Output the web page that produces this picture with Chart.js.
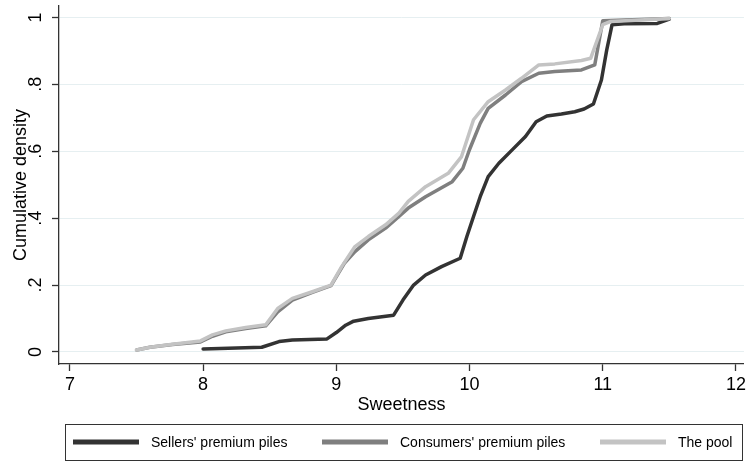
<!DOCTYPE html>
<html>
<head>
<meta charset="utf-8">
<script src="https://cdn.jsdelivr.net/npm/chart.js@4.4.0/dist/chart.umd.min.js"></script>
<style>
  html, body { margin: 0; padding: 0; background: #fff; }
  #wrap { width: 749px; height: 462px; }
</style>
</head>
<body>
<div id="wrap"><canvas id="grafico" width="749" height="462"></canvas></div>
<script>
// valores
const sellersX = [8.0, 8.44, 8.57, 8.67, 8.93, 9.0, 9.07, 9.13, 9.24, 9.43, 9.5, 9.58, 9.67, 9.79, 9.93, 9.98, 10.03, 10.08, 10.14, 10.22, 10.32, 10.42, 10.5, 10.58, 10.69, 10.79, 10.86, 10.93, 10.99, 11.03, 11.07, 11.16, 11.41, 11.5];
const sellersY = [0.009, 0.014, 0.031, 0.036, 0.039, 0.058, 0.08, 0.092, 0.1, 0.11, 0.155, 0.2, 0.23, 0.255, 0.28, 0.345, 0.405, 0.464, 0.524, 0.564, 0.604, 0.644, 0.688, 0.705, 0.711, 0.718, 0.726, 0.741, 0.813, 0.903, 0.978, 0.981, 0.982, 0.995];

const consumersX = [7.5, 7.6, 7.77, 7.98, 8.07, 8.17, 8.32, 8.47, 8.56, 8.67, 8.82, 8.96, 9.06, 9.14, 9.24, 9.37, 9.47, 9.54, 9.67, 9.87, 9.95, 10.0, 10.08, 10.14, 10.27, 10.39, 10.52, 10.64, 10.84, 10.94, 11.0, 11.5];
const consumersY = [0.006, 0.014, 0.022, 0.03, 0.047, 0.06, 0.07, 0.078, 0.12, 0.155, 0.178, 0.198, 0.265, 0.3, 0.335, 0.37, 0.405, 0.43, 0.464, 0.509, 0.549, 0.605, 0.683, 0.728, 0.768, 0.808, 0.833, 0.838, 0.843, 0.858, 0.99, 0.997];

const poolX = [7.5, 7.6, 7.77, 7.98, 8.07, 8.17, 8.32, 8.47, 8.56, 8.67, 8.82, 8.96, 9.04, 9.14, 9.24, 9.37, 9.47, 9.54, 9.67, 9.84, 9.94, 10.03, 10.14, 10.27, 10.39, 10.52, 10.64, 10.84, 10.91, 11.0, 11.06, 11.5];
const poolY = [0.006, 0.014, 0.023, 0.033, 0.051, 0.063, 0.073, 0.081, 0.13, 0.16, 0.18, 0.2, 0.255, 0.315, 0.345, 0.38, 0.415, 0.45, 0.494, 0.534, 0.584, 0.694, 0.748, 0.783, 0.818, 0.858, 0.861, 0.871, 0.878, 0.978, 0.988, 0.997];

const xTicks = [7, 8, 9, 10, 11, 12];
const yTicks = [0, 0.2, 0.4, 0.6, 0.8, 1];
const yTickLabels = ['0', '.2', '.4', '.6', '.8', '1'];

const seriesNames = ["Sellers' premium piles", "Consumers' premium piles", 'The pool'];
const seriesColors = ['#333333', '#7f7f7f', '#c3c3c3'];

const tipo = '"Liberation Sans", Arial, sans-serif';

function puntos(xs, ys) {
    return xs.map(function(x, i) {
        return { x: x, y: ys[i] };
    });
}

// etiquetas del eje y giradas, centradas en cada marca
const etiquetasY = {
    id: 'etiquetasY',
    afterDraw: function(chart) {
        const ctx = chart.ctx;
        const escala = chart.scales.y;
        ctx.save();
        ctx.font = '18px ' + tipo;
        ctx.fillStyle = '#000';
        ctx.textAlign = 'center';
        ctx.textBaseline = 'middle';
        escala.ticks.forEach(function(t, i) {
            const py = escala.getPixelForValue(t.value);
            ctx.save();
            ctx.translate(36, py);
            ctx.rotate(-Math.PI / 2);
            ctx.fillText(yTickLabels[i], 0, 0);
            ctx.restore();
        });
        ctx.restore();
    }
};

// leyenda con caja, como en Stata
const leyendaCaja = {
    id: 'leyendaCaja',
    afterDraw: function(chart) {
        const ctx = chart.ctx;
        const inicios = [73, 322, 600];
        const yMedio = 442;
        ctx.save();
        ctx.strokeStyle = '#333333';
        ctx.lineWidth = 1;
        ctx.strokeRect(65.5, 424.5, 677, 36);
        ctx.font = '14px ' + tipo;
        ctx.textBaseline = 'middle';
        ctx.textAlign = 'left';
        seriesNames.forEach(function(nombre, i) {
            ctx.strokeStyle = seriesColors[i];
            ctx.lineWidth = 5;
            ctx.beginPath();
            ctx.moveTo(inicios[i], yMedio);
            ctx.lineTo(inicios[i] + 66, yMedio);
            ctx.stroke();
            ctx.fillStyle = '#000';
            ctx.fillText(nombre, inicios[i] + 78, yMedio + 1);
        });
        ctx.restore();
    }
};

function dataset(i, xs, ys, orden) {
    return {
        label: seriesNames[i],
        data: puntos(xs, ys),
        borderColor: seriesColors[i],
        backgroundColor: seriesColors[i],
        borderWidth: 3.5,
        pointRadius: 0,
        tension: 0,
        borderJoinStyle: 'round',
        borderCapStyle: 'round',
        fill: false,
        order: orden
    };
}

new Chart(document.getElementById('grafico').getContext('2d'), {
    type: 'line',
    data: {
        datasets: [
            dataset(0, sellersX, sellersY, 3),
            dataset(1, consumersX, consumersY, 2),
            dataset(2, poolX, poolY, 1)
        ]
    },
    options: {
        responsive: false,
        animation: false,
        layout: { padding: { top: 6, right: 3, bottom: 46, left: 0 } },
        plugins: {
            legend: { display: false },
            tooltip: { enabled: false }
        },
        scales: {
            x: {
                type: 'linear',
                position: 'bottom',
                min: 6.918,
                max: 12.06,
                afterBuildTicks: function(scale) {
                    scale.ticks = xTicks.map(function(v) { return { value: v }; });
                },
                afterFit: function(scale) { scale.height = 52; },
                ticks: {
                    font: { family: tipo, size: 18 },
                    color: '#000',
                    padding: 3,
                    maxRotation: 0
                },
                grid: {
                    drawOnChartArea: false,
                    tickLength: 7,
                    tickColor: '#333333',
                    tickWidth: 1.3
                },
                border: { display: true, color: '#333333', width: 1.3 },
                title: {
                    display: true,
                    text: 'Sweetness',
                    font: { family: tipo, size: 18 },
                    color: '#000',
                    padding: 0
                }
            },
            y: {
                type: 'linear',
                position: 'left',
                min: -0.036,
                max: 1.034,
                afterBuildTicks: function(scale) {
                    scale.ticks = yTicks.map(function(v) { return { value: v }; });
                },
                afterFit: function(scale) { scale.width = 59; },
                ticks: { display: false },
                grid: {
                    color: '#e6eff1',
                    lineWidth: 1,
                    tickLength: 7,
                    tickColor: '#333333',
                    tickWidth: 1.3
                },
                border: { display: true, color: '#333333', width: 1.3 },
                title: {
                    display: true,
                    text: 'Cumulative density',
                    font: { family: tipo, size: 18 },
                    color: '#000',
                    padding: { top: 10, bottom: 0 }
                }
            }
        }
    },
    plugins: [etiquetasY, leyendaCaja]
});
</script>
</body>
</html>
